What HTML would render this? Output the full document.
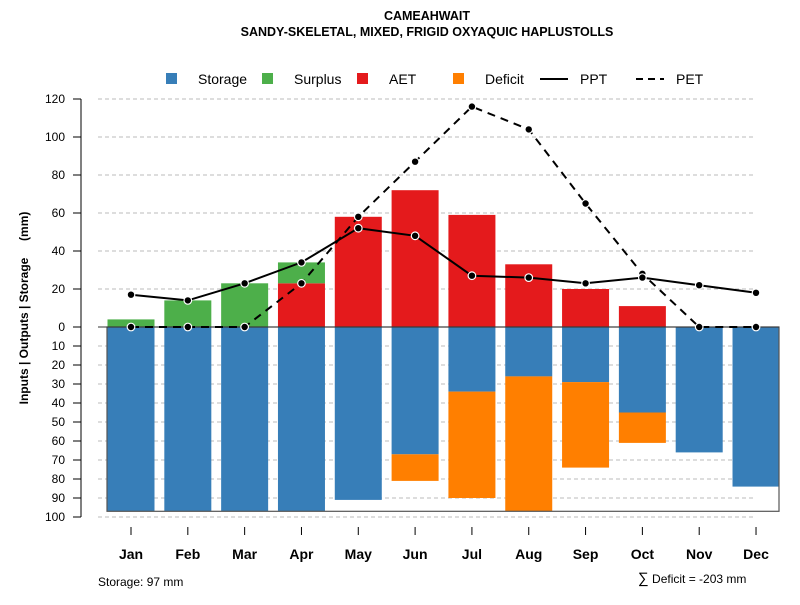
<!DOCTYPE html>
<html><head><meta charset="utf-8"><style>
body{margin:0;background:#fff}
svg text{font-family:"Liberation Sans",sans-serif}
</style></head><body>
<svg id="c" width="800" height="600" xmlns="http://www.w3.org/2000/svg">
<text x="427" y="20" text-anchor="middle" font-size="12.5" font-weight="bold">CAMEAHWAIT</text>
<text x="427" y="36" text-anchor="middle" font-size="12.5" font-weight="bold">SANDY-SKELETAL, MIXED, FRIGID OXYAQUIC HAPLUSTOLLS</text>
<g>
<rect x="166" y="73" width="11" height="11" fill="#377eb8"/>
<text x="198" y="84" font-size="14">Storage</text>
<rect x="262" y="73" width="11" height="11" fill="#4daf4a"/>
<text x="294" y="84" font-size="14">Surplus</text>
<rect x="357" y="73" width="11" height="11" fill="#e41a1c"/>
<text x="389" y="84" font-size="14">AET</text>
<rect x="453" y="73" width="11" height="11" fill="#ff7f00"/>
<text x="485" y="84" font-size="14">Deficit</text>
<line x1="540" y1="79" x2="568" y2="79" stroke="#000" stroke-width="2"/>
<text x="580" y="84" font-size="14">PPT</text>
<line x1="636" y1="79" x2="664" y2="79" stroke="#000" stroke-width="2" stroke-dasharray="7,5"/>
<text x="676" y="84" font-size="14">PET</text>
</g>
<text transform="translate(28,308) rotate(-90)" text-anchor="middle" font-size="12" font-weight="bold" xml:space="preserve">Inputs | Outputs | Storage     (mm)</text>
<text x="98" y="586" font-size="12">Storage: 97 mm</text>
<text x="638" y="583" font-size="12"><tspan font-size="15">∑</tspan> Deficit = -203 mm</text>
<g id="g"></g>
</svg>
<script>
const months=["Jan","Feb","Mar","Apr","May","Jun","Jul","Aug","Sep","Oct","Nov","Dec"];
const storage=[97,97,97,97,91,67,34,26,29,45,66,84];
const deficit=[0,0,0,0,0,14,56,71,45,16,0,0];
const aet=[0,0,0,23,58,72,59,33,20,11,0,0];
const surplus=[4,14,23,11,0,0,0,0,0,0,0,0];
const ppt=[17,14,23,34,52,48,27,26,23,26,22,18];
const pet=[0,0,0,23,58,87,116,104,65,28,0,0];
const capacity=97;
const posTicks=[0,20,40,60,80,100,120];
const negTicks=[10,20,30,40,50,60,70,80,90,100];
const NS="http://www.w3.org/2000/svg",g=document.getElementById('g');
const y=v=>327-v*1.9, x=i=>131+i*56.82, bw=47;
function mk(t,a){const e=document.createElementNS(NS,t);for(const k in a)e.setAttribute(k,a[k]);g.appendChild(e);return e;}
posTicks.concat(negTicks.map(v=>-v)).forEach(v=>{
 if(v!==0){const l=mk('line',{x1:98,x2:756,y1:y(v),y2:y(v),stroke:'#bbb','stroke-dasharray':'4,3'});
 
 }
 const t=mk('line',{x1:73,x2:81,y1:y(v),y2:y(v),stroke:'#000'});
 
 
 const tx=mk('text',{x:65,y:y(v)+4,'text-anchor':'end','font-size':12});
 tx.textContent=Math.abs(v);
 
 
});
const ax=mk('line',{x1:81,x2:81,y1:y(120),y2:y(-100),stroke:'#000'});


function bar(i,v0,v1,c,n){if(v1===v0)return;const r=mk('rect',{x:x(i)-bw/2,y:Math.min(y(v0),y(v1)),width:bw,height:Math.abs(y(v1)-y(v0)),fill:c});
 
 }
months.forEach((m,i)=>{
 bar(i,0,-storage[i],'#377eb8','bar-storage-'+m.toLowerCase());
 bar(i,-storage[i],-storage[i]-deficit[i],'#ff7f00','bar-deficit-'+m.toLowerCase());
 bar(i,0,aet[i],'#e41a1c','bar-aet-'+m.toLowerCase());
 bar(i,aet[i],aet[i]+surplus[i],'#4daf4a','bar-surplus-'+m.toLowerCase());
 const tk=mk('line',{x1:x(i),x2:x(i),y1:527,y2:535,stroke:'#000'});
 
 
 const t=mk('text',{x:x(i),y:559,'text-anchor':'middle','font-size':14,'font-weight':'bold'});
 t.textContent=m;
 
 
});
const fr=mk('rect',{x:107,y:y(0),width:672,height:y(-capacity)-y(0),fill:'none',stroke:'#555','stroke-width':1.2});


const zl=mk('line',{x1:98,x2:779,y1:y(0),y2:y(0),stroke:'#333'});


function series(d,dash,n){
 const p=mk('polyline',{points:d.map((v,i)=>x(i)+','+y(v)).join(' '),fill:'none',stroke:'#000','stroke-width':2,'stroke-dasharray':dash});
 
 
 d.forEach((v,i)=>{const c=mk('circle',{cx:x(i),cy:y(v),r:3.8,fill:'#000',stroke:'#fff','stroke-width':1.2});
 
 });
}
series(pet,'8,6','pet');
series(ppt,'none','ppt');
</script>
</body></html>
